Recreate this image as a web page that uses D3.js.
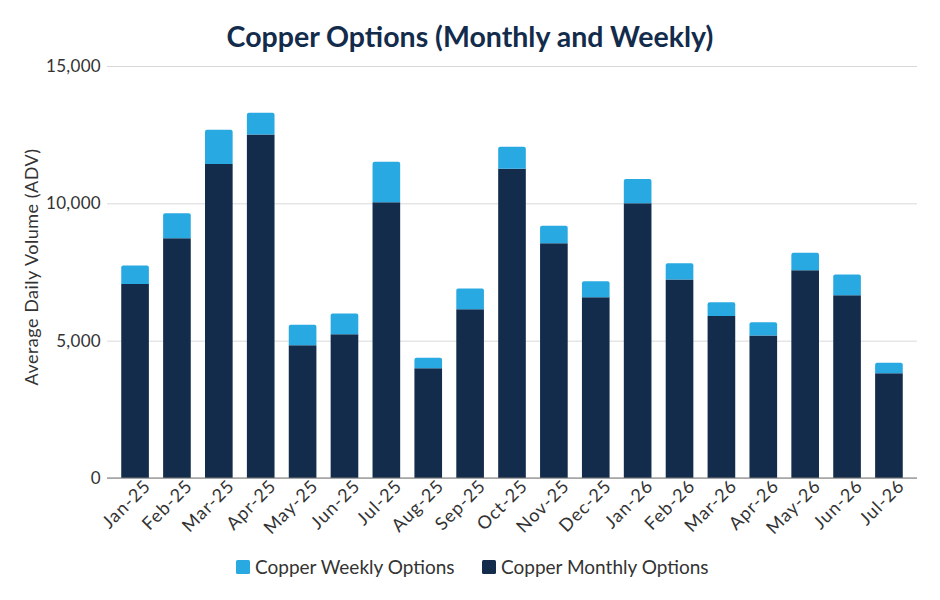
<!DOCTYPE html>
<html>
<head>
<meta charset="utf-8">
<script src="https://d3js.org/d3.v7.min.js"></script>
<style>
  body { margin: 0; background: white; }
  text { font-family: Lato, "Open Sans", sans-serif; }
</style>
</head>
<body>
<div id="chart"></div>
<script>
// months along the x axis
var months = ["Jan-25","Feb-25","Mar-25","Apr-25","May-25","Jun-25","Jul-25","Aug-25","Sep-25",
  "Oct-25","Nov-25","Dec-25","Jan-26","Feb-26","Mar-26","Apr-26","May-26","Jun-26","Jul-26"];

// ADV values
var monthly = [7060, 8730, 11430, 12510, 4830, 5230, 10040, 4000, 6140,
  11260, 8550, 6580, 10000, 7230, 5900, 5190, 7560, 6650, 3810];
var weekly = [680, 910, 1250, 790, 750, 760, 1470, 380, 760,
  800, 630, 580, 890, 590, 500, 480, 640, 760, 390];

var yTicks = [0, 5000, 10000, 15000];

var seriesNames = ["Copper Weekly Options", "Copper Monthly Options"];
var colors = { monthly: "#132c4b", weekly: "#29a9e1" };

var W = 940, H = 600;
var margin = { top: 66, right: 23, bottom: 122, left: 107 };
var width = W - margin.left - margin.right,
    height = H - margin.top - margin.bottom;

var svg = d3.select("#chart").append("svg")
  .attr("width", W).attr("height", H);

// title
svg.append("text")
  .attr("x", 470).attr("y", 47)
  .attr("text-anchor", "middle")
  .style("font-size", "28.5px").style("font-weight", 700)
  .style("fill", "#132c4b")
  .text("Copper Options (Monthly and Weekly)");

var g = svg.append("g")
  .attr("transform", "translate(" + margin.left + "," + margin.top + ")");

var x = d3.scaleBand().domain(months).range([0, width]).padding(0.34);
var y = d3.scaleLinear().domain([0, 15000]).range([height, 0]);

// gridlines + y labels
var yAxis = g.append("g")
  .call(d3.axisLeft(y).tickValues(yTicks).tickSize(-width).tickFormat(d3.format(",")))
  .call(s => s.select(".domain").remove());
yAxis.selectAll(".tick line").attr("stroke", "#d9d9d9").attr("stroke-width", 1);
yAxis.selectAll(".tick text")
  .attr("x", -6)
  .style("font-size", "17px").style("fill", "#333")
  .style("letter-spacing", "0.3px");

// y title
svg.append("text")
  .attr("transform", "translate(38," + (margin.top + height / 2 - 5) + ") rotate(-90)")
  .attr("text-anchor", "middle")
  .style("font-size", "18px").style("fill", "#333")
  .style("letter-spacing", "0.5px")
  .text("Average Daily Volume (ADV)");

// stacked bars
var data = months.map((m, i) => ({ month: m, monthly: monthly[i], weekly: weekly[i] }));
var stack = d3.stack().keys(["monthly", "weekly"])(data);

var r = 2;
stack.forEach(function (layer) {
  var key = layer.key;
  g.append("g").selectAll("path")
    .data(layer)
    .join("path")
    .attr("fill", colors[key])
    .attr("d", function (d) {
      var x0 = x(d.data.month), w = x.bandwidth();
      var yt = y(d[1]), yb = y(d[0]);
      if (key === "weekly") {
        return "M" + x0 + "," + yb + "V" + (yt + r) + "Q" + x0 + "," + yt + " " + (x0 + r) + "," + yt +
          "H" + (x0 + w - r) + "Q" + (x0 + w) + "," + yt + " " + (x0 + w) + "," + (yt + r) + "V" + yb + "Z";
      }
      return "M" + x0 + "," + yb + "V" + yt + "H" + (x0 + w) + "V" + yb + "Z";
    });
});

// zero line
g.append("line")
  .attr("x1", 0).attr("x2", width)
  .attr("y1", y(0)).attr("y2", y(0))
  .attr("stroke", "#777").attr("stroke-width", 1.2);

// x axis labels
var xAxis = g.append("g")
  .attr("transform", "translate(0," + height + ")")
  .call(d3.axisBottom(x).tickSize(0));
xAxis.select(".domain").remove();
xAxis.selectAll(".tick text")
  .attr("text-anchor", "end")
  .attr("dx", "0.3em").attr("dy", "0.85em")
  .attr("transform", "rotate(-45)")
  .style("font-size", "18px").style("fill", "#333")
  .style("letter-spacing", "1px");

// legend
var legend = svg.append("g").attr("transform", "translate(236,560)");
var lx = [0, 246];
seriesNames.forEach(function (name, i) {
  var item = legend.append("g").attr("transform", "translate(" + lx[i] + ",0)");
  item.append("rect")
    .attr("width", 14).attr("height", 14).attr("rx", 1.5)
    .attr("fill", i === 0 ? colors.weekly : colors.monthly);
  item.append("text")
    .attr("x", 19).attr("y", 13.5)
    .style("font-size", "19px").style("fill", "#333")
    .text(name);
});
</script>
</body>
</html>
